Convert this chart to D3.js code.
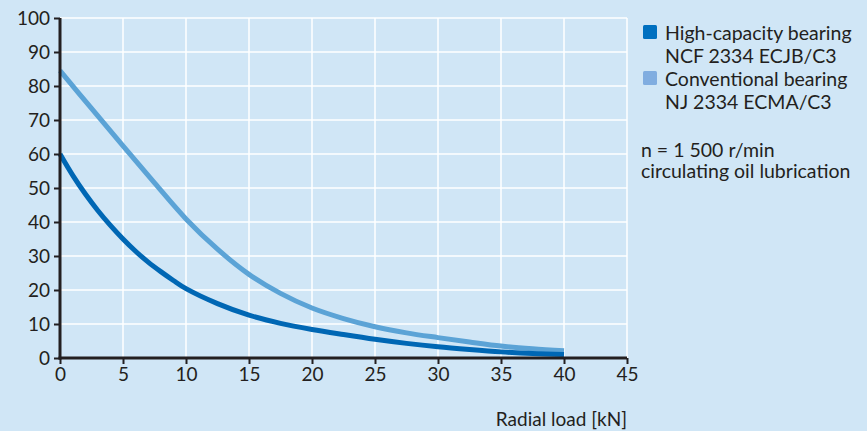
<!DOCTYPE html>
<html>
<head>
<meta charset="utf-8">
<script src="https://cdn.jsdelivr.net/npm/d3@7"></script>
<style>
  body { margin: 0; background: #d0e6f6; }
  svg { display: block; font-family: "Lato", "DejaVu Sans", sans-serif; }
  .tick text { fill: #231f20; }
</style>
</head>
<body>
<svg id="chart"></svg>
<script>
var w = 867;
var h = 431;

// load in kN
var loadsHigh = [0, 1, 2, 3, 4, 5, 6, 7, 8, 9, 10, 12.5, 15, 17.5, 20, 22.5, 25, 27.5, 30, 32.5, 35, 37.5, 40];
var highCapacity = [60, 53.8, 48.3, 43.4, 39, 35, 31.4, 28.2, 25.4, 22.8, 20.4, 16, 12.6, 10.2, 8.4, 6.9, 5.5, 4.3, 3.3, 2.5, 1.8, 1.3, 1.0];
var loadsConv = [0, 2.5, 5, 7.5, 10, 12.5, 15, 17.5, 20, 22.5, 25, 27.5, 30, 32.5, 35, 37.5, 40];
var conventional = [84.5, 73.4, 62.4, 51.5, 40.9, 32.0, 24.6, 19.0, 14.7, 11.6, 9.2, 7.4, 6.0, 4.7, 3.5, 2.7, 2.1];
var xTicks = [0, 5, 10, 15, 20, 25, 30, 35, 40, 45];
var yTicks = [0, 10, 20, 30, 40, 50, 60, 70, 80, 90, 100];
var legendNames = [["High-capacity bearing", "NCF 2334 ECJB/C3"], ["Conventional bearing", "NJ 2334 ECMA/C3"]];
var legendColors = ["#0070c0", "#80ade0"];
var lineColors = ["#0067b4", "#5ba3d6"];
var note = ["n = 1 500 r/min", "circulating oil lubrication"];

var svg = d3.select("#chart").attr("width", w).attr("height", h);

svg.append("rect").attr("width", w).attr("height", h).attr("fill", "#d0e6f6");

var x = d3.scaleLinear().domain([0, 45]).range([60, 627]);
var y = d3.scaleLinear().domain([0, 100]).range([358, 18]);

// grid
svg.append("g").selectAll("line").data(xTicks.slice(1)).enter().append("line")
    .attr("x1", function(d){ return x(d); })
    .attr("x2", function(d){ return x(d); })
    .attr("y1", y(0))
    .attr("y2", y(100))
    .attr("stroke", "#ffffff")
    .attr("stroke-width", 1.5);

svg.append("g").selectAll("line").data(yTicks.slice(1)).enter().append("line")
    .attr("x1", x(0))
    .attr("x2", x(45))
    .attr("y1", function(d){ return y(d); })
    .attr("y2", function(d){ return y(d); })
    .attr("stroke", "#ffffff")
    .attr("stroke-width", 1.5);

// curves
var line = d3.line()
    .x(function(d){ return x(d[0]); })
    .y(function(d){ return y(d[1]); })
    .curve(d3.curveCatmullRom.alpha(0.5));

var series = [
    {loads: loadsConv, vals: conventional, color: lineColors[1]},
    {loads: loadsHigh, vals: highCapacity, color: lineColors[0]}
];
series.forEach(function(s){
    svg.append("path")
        .datum(s.loads.map(function(l, j){ return [l, s.vals[j]]; }))
        .attr("d", line)
        .attr("fill", "none")
        .attr("stroke", s.color)
        .attr("stroke-width", 5);
});

// axes
var xAxis = svg.append("g")
    .attr("transform", "translate(0," + y(0) + ")")
    .call(d3.axisBottom(x).tickValues(xTicks).tickSize(6).tickPadding(4));
var yAxis = svg.append("g")
    .attr("transform", "translate(" + x(0) + ",0)")
    .call(d3.axisLeft(y).tickValues(yTicks).tickSize(6).tickPadding(4));

[xAxis, yAxis].forEach(function(a){
    a.select(".domain").attr("stroke", "#231f20").attr("stroke-width", 3);
    a.selectAll(".tick line").attr("stroke", "#231f20").attr("stroke-width", 2);
    a.selectAll(".tick text").attr("font-size", 19).attr("font-family", "Lato, sans-serif");
});
xAxis.select(".domain").attr("d", "M" + (x(0) - 1.5) + ",0H" + x(45));
yAxis.select(".domain").attr("d", "M0," + y(100) + "V" + (y(0) + 1.5));

svg.append("text")
    .attr("x", x(45))
    .attr("y", 426)
    .attr("text-anchor", "end")
    .attr("font-size", 19)
    .attr("fill", "#231f20")
    .text("Radial load [kN]");

// legend
legendNames.forEach(function(n, i){
    var ly = 25 + i * 46;
    svg.append("rect")
        .attr("x", 643)
        .attr("y", ly)
        .attr("width", 14)
        .attr("height", 14)
        .attr("rx", 1.5)
        .attr("fill", legendColors[i]);
    n.forEach(function(t, k){
        svg.append("text")
            .attr("x", 665)
            .attr("y", ly + 15 + k * 23)
            .attr("font-size", 19.5)
            .attr("fill", "#231f20")
            .text(t);
    });
});

note.forEach(function(t, k){
    svg.append("text")
        .attr("x", 641)
        .attr("y", 157 + k * 21)
        .attr("font-size", 19.5)
        .attr("fill", "#231f20")
        .text(t);
});
</script>
</body>
</html>
